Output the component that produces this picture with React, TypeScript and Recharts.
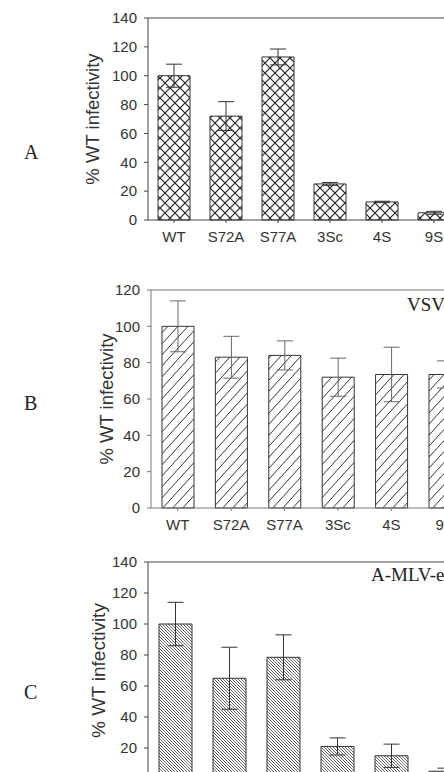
import React from 'react';
import { BarChart, Bar, XAxis, YAxis, ErrorBar, ReferenceLine } from 'recharts';

// Mutants tested in each infectivity assay
const mutants = ['WT', 'S72A', 'S77A', '3Sc', '4S', '9S'];

// Panel A — infectivity (% of WT) with standard deviation
const infectivityA = [100, 72, 113, 25, 12.5, 5];
const errorA = [8, 10, 5.5, 1, 0.5, 1];
const ticksA = [0, 20, 40, 60, 80, 100, 120, 140];

// Panel B — VSV-G pseudotypes
const infectivityB = [100, 83, 84, 72, 73.5, 73.5];
const errorB = [14, 11.5, 8, 10.5, 15, 7.5];
const ticksB = [0, 20, 40, 60, 80, 100, 120];

// Panel C — A-MLV-env pseudotypes
const infectivityC = [100, 65, 78.5, 21, 15, 5];
const errorC = [14, 20, 14.5, 5.5, 7.5, 2];
const ticksC = [0, 20, 40, 60, 80, 100, 120, 140];

const SANS = '"Liberation Sans", Arial, sans-serif';
const SERIF = '"Liberation Serif", "Times New Roman", serif';
const INK = '#333';

type PanelProps = {
  id: string;
  letter: string;
  note?: string;
  values: number[];
  errors: number[];
  ticks: number[];
  plotTop: number;
  plotLeft: number;
  plotHeight: number;
  band: number;
  barSize: number;
  titleX: number;
  titleSize: number;
  letterY: number;
  noteX?: number;
  noteY?: number;
  axisColor: string;
  errorColor: string;
  showCategoryLabels: boolean;
  pattern: React.ReactNode;
};

function Panel(p: PanelProps) {
  const data = mutants.map((name, i) => ({ name, value: p.values[i], err: p.errors[i] }));
  const max = p.ticks[p.ticks.length - 1];
  const padTop = 10;
  const width = p.plotLeft + p.band * mutants.length + 10;
  const height = padTop + p.plotHeight + 30 + 10;
  const tickStyle = { fill: INK, fontSize: 15, fontFamily: SANS };
  return (
    <>
      <div style={{ position: 'absolute', left: 0, top: p.plotTop - padTop }}>
        <BarChart
          width={width}
          height={height}
          data={data}
          margin={{ top: padTop, right: 10, bottom: 10, left: 0 }}
        >
          <defs>{p.pattern}</defs>
          <XAxis
            dataKey="name"
            interval={0}
            height={30}
            tickSize={3}
            tickMargin={8}
            tick={p.showCategoryLabels ? tickStyle : false}
            stroke={p.axisColor}
          />
          <YAxis
            domain={[0, max]}
            ticks={p.ticks}
            width={p.plotLeft}
            tickSize={4}
            tickMargin={7}
            tick={tickStyle}
            stroke={p.axisColor}
            label={{
              value: '% WT infectivity',
              angle: -90,
              position: 'insideLeft',
              offset: p.titleX,
              style: { textAnchor: 'middle', fill: INK, fontSize: p.titleSize, fontFamily: SANS },
            }}
          />
          <ReferenceLine y={max} stroke={p.axisColor} strokeWidth={1} />
          <Bar
            dataKey="value"
            barSize={p.barSize}
            fill={`url(#${p.id})`}
            stroke="#333"
            strokeWidth={1}
            isAnimationActive={false}
          >
            <ErrorBar dataKey="err" width={8} stroke={p.errorColor} strokeWidth={1} />
          </Bar>
        </BarChart>
      </div>
      <div
        style={{
          position: 'absolute',
          left: 24,
          top: p.letterY - 12,
          fontFamily: SERIF,
          fontSize: 20,
          lineHeight: '24px',
          color: '#222',
        }}
      >
        {p.letter}
      </div>
      {p.note && (
        <div
          style={{
            position: 'absolute',
            left: p.noteX,
            top: (p.noteY ?? 0) - 11,
            fontFamily: SERIF,
            fontSize: 19,
            lineHeight: '22px',
            color: '#222',
            whiteSpace: 'nowrap',
          }}
        >
          {p.note}
        </div>
      )}
    </>
  );
}

const crossHatch = (
  <pattern id="hatchA" patternUnits="userSpaceOnUse" width={10} height={10}>
    <rect width={10} height={10} fill="#fff" />
    <path d="M0,0 L10,10 M0,10 L10,0" stroke="#222" strokeWidth={1.2} />
  </pattern>
);

const wideSlash = (
  <pattern id="hatchB" patternUnits="userSpaceOnUse" width={10} height={11}>
    <rect width={10} height={11} fill="#fff" />
    <path d="M0,11 L10,0 M-5,5.5 L5,-5.5 M5,16.5 L15,5.5" stroke="#333" strokeWidth={1} />
  </pattern>
);

const denseBackslash = (
  <pattern id="hatchC" patternUnits="userSpaceOnUse" width={3} height={3}>
    <rect width={3} height={3} fill="#fff" />
    <path d="M0,0 L3,3 M-1.5,1.5 L1.5,4.5 M1.5,-1.5 L4.5,1.5" stroke="#555" strokeWidth={0.9} />
  </pattern>
);

export default function App() {
  return (
    <div
      style={{
        position: 'absolute',
        left: 0,
        top: 0,
        width: 444,
        height: 772,
        overflow: 'hidden',
        background: '#fff',
      }}
    >
      <Panel
        id="hatchA"
        letter="A"
        values={infectivityA}
        errors={errorA}
        ticks={ticksA}
        plotTop={18}
        plotLeft={148}
        plotHeight={202}
        band={52}
        barSize={32}
        titleX={92}
        titleSize={18.5}
        letterY={152}
        axisColor="#444"
        errorColor="#333"
        showCategoryLabels
        pattern={crossHatch}
      />
      <Panel
        id="hatchB"
        letter="B"
        note="VSV-G"
        values={infectivityB}
        errors={errorB}
        ticks={ticksB}
        plotTop={290}
        plotLeft={151}
        plotHeight={218}
        band={53.4}
        barSize={32}
        titleX={106}
        titleSize={18.5}
        letterY={403}
        noteX={407}
        noteY={305}
        axisColor="#777"
        errorColor="#666"
        showCategoryLabels
        pattern={wideSlash}
      />
      <Panel
        id="hatchC"
        letter="C"
        note="A-MLV-env"
        values={infectivityC}
        errors={errorC}
        ticks={ticksC}
        plotTop={562}
        plotLeft={148}
        plotHeight={217}
        band={54}
        barSize={33}
        titleX={98}
        titleSize={19}
        letterY={692}
        noteX={371}
        noteY={575}
        axisColor="#444"
        errorColor="#333"
        showCategoryLabels={false}
        pattern={denseBackslash}
      />
    </div>
  );
}
